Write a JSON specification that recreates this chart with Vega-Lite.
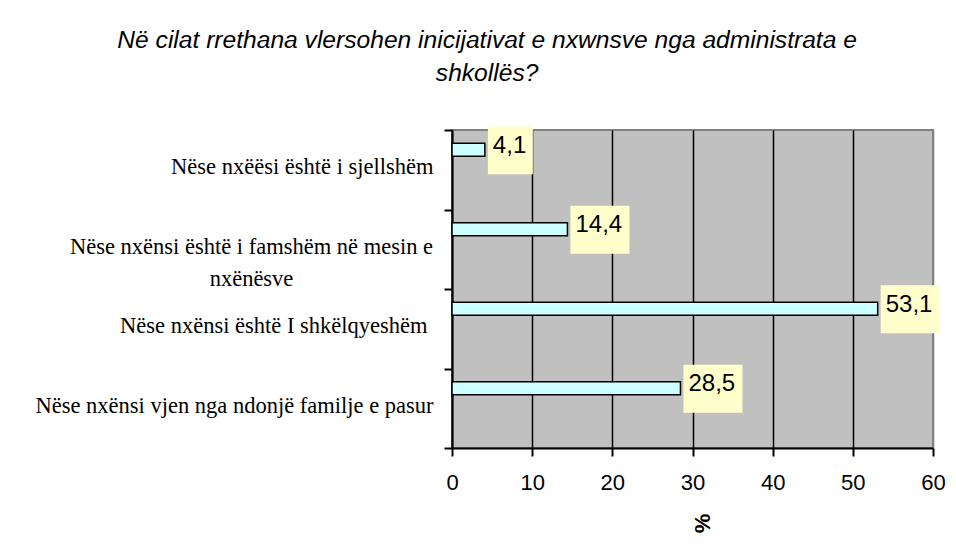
{
  "$schema": "https://vega.github.io/schema/vega-lite/v6.json",
  "width": 481,
  "height": 318,
  "autosize": {"type": "none"},
  "padding": {"left": 452, "top": 130, "right": 23, "bottom": 104},
  "background": "white",
  "title": {
    "text": ["Në cilat rrethana vlersohen inicijativat e nxwnsve nga administrata e", "shkollës?"],
    "font": "Liberation Sans",
    "fontSize": 24.6,
    "fontStyle": "italic",
    "fontWeight": "normal",
    "color": "black",
    "anchor": "middle",
    "frame": "bounds",
    "dx": -3,
    "lineHeight": 33,
    "offset": 32
  },
  "data": {
    "values": [
      {"cat": "Nëse nxëësi është i sjellshëm", "value": 4.1},
      {"cat": "Nëse nxënsi është i famshëm në mesin e nxënësve", "value": 14.4},
      {"cat": "Nëse nxënsi është I shkëlqyeshëm", "value": 53.1},
      {"cat": "Nëse nxënsi vjen nga ndonjë familje e pasur", "value": 28.5}
    ]
  },
  "config": {
    "view": {"fill": "#C0C0C0", "stroke": "#808080", "strokeWidth": 2},
    "locale": {"number": {"decimal": ",", "thousands": ".", "grouping": [3], "currency": ["", ""]}}
  },
  "encoding": {
    "y": {
      "field": "cat",
      "type": "nominal",
      "sort": ["Nëse nxëësi është i sjellshëm", "Nëse nxënsi është i famshëm në mesin e nxënësve", "Nëse nxënsi është I shkëlqyeshëm", "Nëse nxënsi vjen nga ndonjë familje e pasur"],
      "scale": {"paddingInner": 0, "paddingOuter": 0},
      "axis": {
        "title": null,
        "labelFont": "Liberation Serif",
        "labelFontSize": 22.5,
        "labelColor": "black",
        "labelLimit": 0,
        "labelPadding": {"condition": [
          {"test": "datum.value == 'Nëse nxënsi është i famshëm në mesin e nxënësve'", "value": 193},
          {"test": "datum.value == 'Nëse nxënsi është I shkëlqyeshëm'", "value": 17}
        ], "value": 11},
        "labelAlign": {"condition": {"test": "datum.value == 'Nëse nxënsi është i famshëm në mesin e nxënësve'", "value": "center"}, "value": "right"},
        "labelLineHeight": 32,
        "labelOffset": -3,
        "labelExpr": "datum.value == 'Nëse nxënsi është i famshëm në mesin e nxënësve' ? ['Nëse nxënsi është i famshëm në mesin e', 'nxënësve'] : datum.value",
        "domainColor": "black",
        "domainWidth": 2,
        "tickColor": "black",
        "tickWidth": 2,
        "tickSize": 8,
        "tickBand": "extent",
        "grid": false
      }
    },
    "x": {
      "field": "value",
      "type": "quantitative",
      "scale": {"domain": [0, 60], "nice": false},
      "axis": {
        "values": [0, 10, 20, 30, 40, 50, 60],
        "title": "%",
        "titleFont": "Liberation Sans",
        "titleFontSize": 22,
        "titleFontWeight": "bold",
        "titleColor": "black",
        "titleAngle": 270,
        "titlePadding": 30,
        "labelFont": "Liberation Sans",
        "labelFontSize": 22,
        "labelColor": "black",
        "labelPadding": 16,
        "labelFlush": false,
        "domainColor": "black",
        "domainWidth": 2,
        "tickColor": "black",
        "tickWidth": 2,
        "tickSize": 8,
        "grid": true,
        "gridColor": {"condition": {"test": "datum.value == 60", "value": "#808080"}, "value": "black"},
        "gridWidth": 1.5,
        "gridOpacity": 1
      }
    }
  },
  "layer": [
    {
      "mark": {"type": "bar", "fill": "#CCFFFF", "stroke": "black", "strokeWidth": 1.5, "height": 13, "yOffset": -20}
    },
    {
      "transform": [{"filter": "datum.value < 10"}],
      "mark": {"type": "bar", "fill": "#FFFFCC", "height": 48, "yOffset": -19.5, "xOffset": 3, "x2Offset": 48},
      "encoding": {"x2": {"field": "value"}}
    },
    {
      "transform": [{"filter": "datum.value >= 10"}],
      "mark": {"type": "bar", "fill": "#FFFFCC", "height": 48, "yOffset": -19.5, "xOffset": 3, "x2Offset": 62},
      "encoding": {"x2": {"field": "value"}}
    },
    {
      "mark": {"type": "text", "align": "left", "baseline": "middle", "dx": 8, "dy": -24, "font": "Liberation Sans", "fontSize": 24, "color": "black"},
      "encoding": {"text": {"field": "value", "type": "quantitative", "format": ".1f"}}
    }
  ]
}
